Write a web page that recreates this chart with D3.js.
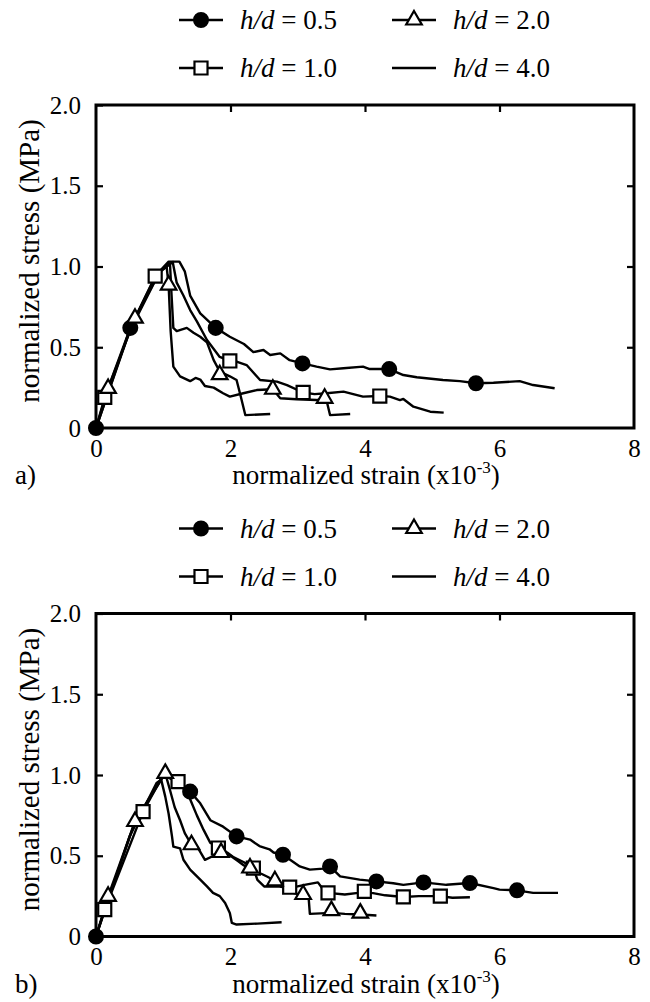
<!DOCTYPE html>
<html>
<head>
<meta charset="utf-8">
<script src="https://cdn.jsdelivr.net/npm/d3@7"></script>
<style>
  body { margin: 0; background: #fff; }
</style>
</head>
<body>
<div id="chart"></div>
<script>
// ---- data (strain x10^-3, normalized stress MPa) ----
const xTicks = [0, 2, 4, 6, 8];
const yTicks = [0, 0.5, 1.0, 1.5, 2.0];
const ratios = ["0.5", "1.0", "2.0", "4.0"];
const markerKinds = ["circle", "square", "triangle", "none"];
const panelTags = ["a)", "b)"];

// panel a
const a05Line = [[0,0],[0.51,0.62],[0.9,0.95],[1.15,1.03],[1.24,1.03],[1.32,0.97],[1.40,0.82],[1.55,0.71],[1.78,0.62],[1.99,0.565],[2.2,0.52],[2.34,0.47],[2.49,0.483],[2.59,0.452],[2.74,0.462],[2.88,0.42],[3.07,0.40],[3.28,0.38],[3.48,0.363],[3.68,0.37],[3.97,0.38],[4.07,0.365],[4.36,0.365],[4.57,0.328],[4.77,0.314],[5.16,0.297],[5.41,0.29],[5.65,0.277],[5.91,0.28],[6.30,0.29],[6.50,0.266],[6.82,0.246]];
const a05Marks = [[0,0],[0.51,0.62],[1.78,0.62],[3.07,0.40],[4.36,0.365],[5.65,0.277]];
const a10Line = [[0,0],[0.13,0.19],[0.51,0.62],[0.88,0.94],[1.08,1.03],[1.14,1.03],[1.2,0.90],[1.3,0.82],[1.4,0.73],[1.5,0.66],[1.65,0.545],[1.84,0.44],[1.99,0.415],[2.1,0.41],[2.24,0.39],[2.44,0.297],[2.69,0.287],[2.84,0.266],[3.08,0.22],[3.25,0.21],[3.43,0.215],[3.68,0.225],[3.97,0.194],[4.22,0.198],[4.37,0.194],[4.52,0.173],[4.57,0.18],[4.72,0.132],[4.97,0.101],[5.17,0.095]];
const a10Marks = [[0.13,0.19],[0.88,0.94],[1.99,0.415],[3.08,0.22],[4.22,0.198]];
const a20Line = [[0,0],[0.18,0.245],[0.58,0.68],[0.95,0.97],[1.05,1.0],[1.08,0.885],[1.11,0.6],[1.15,0.38],[1.25,0.32],[1.40,0.29],[1.48,0.31],[1.55,0.30],[1.62,0.26],[1.75,0.25],[1.89,0.215],[1.99,0.194],[2.19,0.215],[2.39,0.235],[2.63,0.24],[2.74,0.184],[2.98,0.178],[3.28,0.173],[3.40,0.184],[3.44,0.15],[3.48,0.08],[3.78,0.087]];
const a20Marks = [[0.18,0.245],[0.58,0.68],[1.08,0.885],[1.84,0.33],[2.63,0.24],[3.40,0.184]];
const a40Line = [[0,0],[0.5,0.6],[0.95,0.97],[1.1,1.02],[1.12,0.85],[1.15,0.62],[1.2,0.6],[1.35,0.62],[1.45,0.59],[1.55,0.565],[1.65,0.53],[1.75,0.42],[1.84,0.35],[1.99,0.32],[2.09,0.297],[2.15,0.2],[2.22,0.08],[2.59,0.087]];
const a40Marks = [];

// panel b
const b05Line = [[0,0],[0.13,0.167],[0.58,0.712],[1.0,1.0],[1.1,0.98],[1.25,0.94],[1.40,0.897],[1.55,0.825],[1.70,0.72],[1.89,0.68],[2.09,0.62],[2.29,0.6],[2.43,0.56],[2.58,0.54],[2.64,0.52],[2.78,0.506],[3.03,0.434],[3.18,0.414],[3.38,0.42],[3.48,0.434],[3.63,0.372],[3.92,0.352],[4.17,0.341],[4.42,0.33],[4.57,0.32],[4.87,0.335],[5.21,0.32],[5.56,0.331],[5.91,0.30],[6.0,0.29],[6.26,0.286],[6.5,0.27],[6.87,0.27]];
const b05Marks = [[0,0],[1.40,0.897],[2.09,0.62],[2.78,0.506],[3.48,0.434],[4.17,0.341],[4.87,0.335],[5.56,0.331],[6.26,0.286]];
const b10Line = [[0,0],[0.13,0.167],[0.70,0.773],[1.0,1.0],[1.1,0.98],[1.22,0.959],[1.3,0.93],[1.4,0.85],[1.5,0.75],[1.6,0.66],[1.7,0.58],[1.82,0.548],[1.95,0.52],[2.05,0.49],[2.2,0.46],[2.34,0.424],[2.40,0.35],[2.5,0.31],[2.7,0.31],[2.88,0.30],[3.1,0.32],[3.3,0.335],[3.38,0.29],[3.45,0.27],[3.7,0.26],[3.9,0.27],[3.99,0.28],[4.1,0.27],[4.3,0.255],[4.57,0.245],[4.8,0.25],[5.12,0.25],[5.3,0.24],[5.56,0.243]];
const b10Marks = [[0.13,0.167],[0.70,0.773],[1.22,0.959],[1.82,0.548],[2.34,0.424],[2.88,0.305],[3.45,0.27],[3.99,0.28],[4.57,0.245],[5.12,0.25]];
const b20Line = [[0,0],[0.18,0.249],[0.58,0.712],[1.03,1.01],[1.10,0.907],[1.17,0.80],[1.25,0.72],[1.32,0.64],[1.42,0.568],[1.5,0.56],[1.62,0.475],[1.75,0.5],[1.89,0.517],[2.0,0.5],[2.1,0.47],[2.2,0.44],[2.29,0.424],[2.45,0.39],[2.55,0.37],[2.66,0.345],[2.8,0.32],[2.93,0.27],[3.08,0.255],[3.16,0.25],[3.18,0.14],[3.50,0.146],[3.7,0.14],[3.93,0.136],[4.17,0.13]];
const b20Marks = [[0.18,0.249],[0.58,0.712],[1.03,1.01],[1.42,0.568],[1.86,0.52],[2.29,0.424],[2.66,0.345],[3.08,0.26],[3.50,0.16],[3.93,0.145]];
const b40Line = [[0,0],[0.5,0.62],[0.90,0.95],[0.97,0.97],[1.03,0.866],[1.08,0.76],[1.13,0.62],[1.15,0.557],[1.25,0.546],[1.30,0.475],[1.40,0.414],[1.55,0.352],[1.65,0.31],[1.74,0.27],[1.84,0.25],[1.92,0.208],[1.99,0.146],[2.02,0.084],[2.09,0.074],[2.4,0.08],[2.76,0.088]];
const b40Marks = [];

const FONT = "'Liberation Serif', 'DejaVu Serif', serif";
const W = 650, H = 1002;
const svg = d3.select("#chart").append("svg")
  .attr("width", W).attr("height", H)
  .style("background", "#fff");

function symbolPath(kind) {
  if (kind === "circle") return d3.symbol(d3.symbolCircle, 150)();
  if (kind === "square") return d3.symbol(d3.symbolSquare, 170)();
  if (kind === "triangle") return d3.symbol(d3.symbolTriangle, 105)();
  return null;
}

function addMarker(g, kind, cx, cy) {
  if (kind === "none") return;
  g.append("path")
    .attr("d", symbolPath(kind))
    .attr("transform", "translate(" + cx + "," + cy + ")")
    .attr("fill", kind === "circle" ? "#000" : "#fff")
    .attr("stroke", "#000")
    .attr("stroke-width", 2.2);
}

function drawPanel(top, lines, marks, tag) {
  const left = 96, right = 634, plotH = 323;
  const x = d3.scaleLinear().domain([0, 8]).range([left, right]);
  const y = d3.scaleLinear().domain([0, 2]).range([top + plotH, top]);
  const g = svg.append("g");

  // legend (two rows above the frame)
  const legendCols = [201, 414];
  const legendRows = [top - 85, top - 37];
  const order = [0, 2, 1, 3]; // 0.5, 2.0 / 1.0, 4.0
  order.forEach(function(si, k) {
    const cx = legendCols[k % 2], cy = legendRows[Math.floor(k / 2)];
    const lg = g.append("g");
    lg.append("line")
      .attr("x1", cx - 22).attr("x2", cx + 22)
      .attr("y1", cy).attr("y2", cy)
      .attr("stroke", "#000").attr("stroke-width", 2.5);
    addMarker(lg, markerKinds[si], cx, cy);
    const t = lg.append("text")
      .attr("x", cx + 39).attr("y", cy + 9)
      .style("font-family", FONT)
      .style("font-size", "27px");
    t.append("tspan").style("font-style", "italic").text("h/d");
    t.append("tspan").text(" = " + ratios[si]);
  });

  // curves
  const line = d3.line().x(d => x(d[0])).y(d => y(d[1]));
  lines.forEach(function(pts) {
    g.append("path")
      .attr("d", line(pts))
      .attr("fill", "none")
      .attr("stroke", "#000")
      .attr("stroke-width", 2.4)
      .attr("stroke-linejoin", "round");
  });
  marks.forEach(function(pts, si) {
    pts.forEach(function(p) { addMarker(g, markerKinds[si], x(p[0]), y(p[1])); });
  });

  // axes
  const yAxis = d3.axisLeft(y).tickValues(yTicks).tickSize(-7).tickPadding(15)
    .tickFormat(d => d === 0 ? "0" : d3.format(".1f")(d));
  const ga = g.append("g").attr("transform", "translate(" + left + ",0)").call(yAxis);
  ga.attr("font-family", null).attr("font-size", null);
  ga.selectAll("text").style("font-family", FONT).style("font-size", "25px");

  g.append("g").attr("transform", "translate(" + right + ",0)")
    .call(d3.axisRight(y).tickValues([0.5, 1, 1.5]).tickSize(-7).tickFormat(""));
  g.append("g").attr("transform", "translate(0," + top + ")")
    .call(d3.axisTop(x).tickValues([2, 4, 6]).tickSize(-7).tickFormat(""));
  const gx = g.append("g").attr("transform", "translate(0," + (top + plotH) + ")")
    .call(d3.axisBottom(x).tickValues(xTicks).tickSize(0).tickPadding(11));
  gx.attr("font-family", null).attr("font-size", null);
  gx.selectAll("text").style("font-family", FONT).style("font-size", "25px");

  g.selectAll(".domain").remove();
  g.selectAll(".tick line").attr("stroke", "#000").attr("stroke-width", 2.2);

  g.append("rect")
    .attr("x", left).attr("y", top)
    .attr("width", right - left).attr("height", plotH)
    .attr("fill", "none").attr("stroke", "#000").attr("stroke-width", 3);

  // titles
  const xt = g.append("text")
    .attr("x", 366).attr("y", top + plotH + 56)
    .attr("text-anchor", "middle")
    .style("font-family", FONT)
    .style("font-size", "27px");
  xt.append("tspan").text("normalized strain (x10");
  xt.append("tspan").attr("dy", -11).style("font-size", "17px").text("-3");
  xt.append("tspan").attr("dy", 11).text(")");

  g.append("text")
    .attr("transform", "translate(39," + (top + 156) + ") rotate(-90)")
    .attr("text-anchor", "middle")
    .style("font-family", FONT)
    .style("font-size", "29px")
    .text("normalized stress (MPa)");

  g.append("text")
    .attr("x", 15).attr("y", top + plotH + 56)
    .style("font-family", FONT)
    .style("font-size", "27px")
    .text(tag);
}

drawPanel(105, [a05Line, a10Line, a20Line, a40Line], [a05Marks, a10Marks, a20Marks, a40Marks], panelTags[0]);
drawPanel(613.5, [b05Line, b10Line, b20Line, b40Line], [b05Marks, b10Marks, b20Marks, b40Marks], panelTags[1]);
</script>
</body>
</html>
